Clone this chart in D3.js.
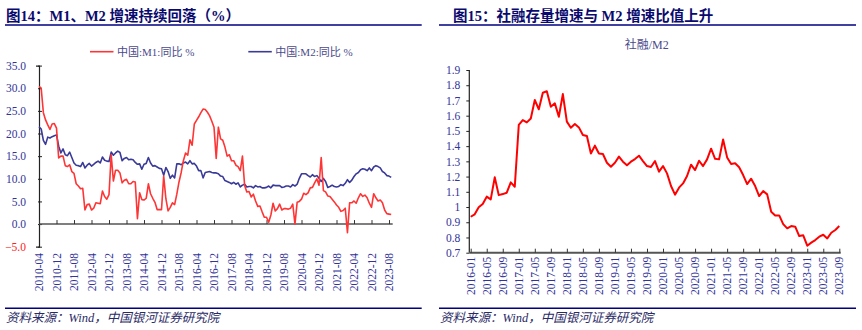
<!DOCTYPE html>
<html><head><meta charset="utf-8">
<script src="https://cdn.jsdelivr.net/npm/d3@7"></script>
<style>
html,body{margin:0;padding:0;background:#fff;}
svg{display:block;}
text{font-family:"Liberation Serif","Noto Sans CJK SC",serif;}
</style></head>
<body>
<svg id="chart" width="862" height="330"></svg>
<script>
// ---------- DATA ----------
const leftTitle = "图14：M1、M2 增速持续回落（%）";
const rightTitle = "图15：社融存量增速与 M2 增速比值上升";
const sourceText = "资料来源：Wind，中国银河证券研究院";
const m1Name = "中国:M1:同比 %";
const m2Name = "中国:M2:同比 %";
const ratioName = "社融/M2";

const leftStart = [2010, 4];   // first month of the M1/M2 series
const m1 = [
 30.4,30.0,24.6,23.0,21.9,20.9,22.1,22.2,21.2,
 14.6,15.0,15.0,12.9,12.7,13.1,11.6,11.2,8.9,8.4,7.8,7.9,
 3.1,4.3,4.4,3.1,3.5,4.7,4.6,4.5,7.3,6.1,5.5,6.5,
 15.3,9.5,11.9,11.9,11.3,9.1,9.7,9.9,8.9,8.9,9.4,9.3,
 1.2,6.9,5.4,5.3,5.7,8.9,6.7,5.7,4.8,3.2,3.2,3.2,
 10.6,5.6,2.9,3.7,4.7,4.3,6.6,9.3,11.4,14.0,15.7,15.2,
 18.6,17.4,22.1,22.9,23.7,24.6,25.4,25.3,24.7,23.9,22.7,21.4,
 14.5,21.4,18.8,18.5,17.0,15.0,15.3,14.0,14.0,13.0,12.7,11.8,
 15.0,8.5,7.1,7.2,6.0,6.6,5.1,3.9,4.0,2.7,1.5,1.5,
 0.4,2.0,4.6,2.9,3.4,4.4,3.1,3.4,3.4,3.3,3.5,4.4,
 0.0,4.8,5.0,5.5,6.8,6.5,6.9,8.0,8.1,9.1,10.0,8.6,
 14.7,7.4,7.1,6.2,6.1,5.5,4.9,4.2,3.7,2.8,3.0,3.5,
 -1.9,4.7,4.7,5.1,4.6,5.8,6.7,6.1,6.4,5.8,4.6,3.7,
 6.7,5.8,5.1,5.3,4.7,3.1,2.3,2.2,2.1
];
const m2 = [
 21.5,21.0,18.5,17.6,19.2,19.0,19.3,19.5,19.7,
 17.2,15.7,16.6,15.3,15.1,15.9,14.7,13.5,13.0,12.9,12.7,13.6,
 12.4,13.0,13.4,12.8,13.2,13.6,13.9,13.5,14.8,14.1,13.9,13.8,
 15.9,15.2,15.7,16.1,15.8,14.0,14.5,14.7,14.2,14.3,14.2,13.6,
 13.2,13.3,12.1,13.2,13.4,14.7,13.5,12.8,12.9,12.6,12.3,12.2,
 10.8,12.5,11.6,10.1,10.8,10.2,13.3,13.3,13.1,13.5,13.7,13.3,
 14.0,13.3,13.4,12.8,11.8,11.8,10.2,11.4,11.5,11.6,11.4,11.3,
 11.3,11.1,10.6,10.5,9.6,9.4,9.2,8.9,9.2,8.8,9.1,8.2,
 8.6,8.8,8.2,8.3,8.3,8.0,8.5,8.2,8.3,8.0,8.0,8.1,
 8.4,8.0,8.6,8.5,8.5,8.5,8.1,8.2,8.4,8.4,8.2,8.7,
 8.4,8.8,10.1,11.1,11.1,11.1,10.7,10.4,10.9,10.5,10.7,10.1,
 9.4,10.1,9.4,8.1,8.3,8.6,8.3,8.2,8.3,8.7,8.5,9.0,
 9.8,9.2,9.7,10.5,11.1,11.4,12.0,12.2,12.1,11.8,12.4,11.8,
 12.6,12.9,12.7,12.4,11.6,11.3,10.7,10.6,10.3
];
const leftYTicks = [-5,0,5,10,15,20,25,30,35];
const leftXTicks = ["2010-04","2010-12","2011-08","2012-04","2012-12","2013-08","2014-04","2014-12","2015-08","2016-04","2016-12","2017-08","2018-04","2018-12","2019-08","2020-04","2020-12","2021-08","2022-04","2022-12","2023-08"];

const rightStart = [2016, 1];
const ratio = [
 0.936,0.952,0.998,1.02,1.068,1.05,1.195,1.078,1.085,1.094,1.162,1.133,
 1.539,1.571,1.556,1.582,1.703,1.642,1.751,1.76,1.659,1.681,1.593,1.742,
 1.561,1.521,1.545,1.523,1.473,1.466,1.352,1.403,1.352,1.348,1.291,1.265,
 1.291,1.331,1.298,1.274,1.298,1.315,1.337,1.302,1.269,1.263,1.302,1.232,
 1.269,1.221,1.138,1.081,1.127,1.155,1.204,1.278,1.243,1.304,1.269,1.313,
 1.383,1.317,1.313,1.444,1.326,1.282,1.287,1.261,1.21,1.151,1.186,1.138,
 1.072,1.105,1.083,0.969,0.945,0.945,0.888,0.86,0.875,0.871,0.809,0.814,
 0.746,0.766,0.783,0.805,0.818,0.794,0.831,0.849,0.875
];
const rightYTicks = ["0.7","0.8","0.9","1","1.1","1.2","1.3","1.4","1.5","1.6","1.7","1.8","1.9"];
const rightXTicks = ["2016-01","2016-05","2016-09","2017-01","2017-05","2017-09","2018-01","2018-05","2018-09","2019-01","2019-05","2019-09","2020-01","2020-05","2020-09","2021-01","2021-05","2021-09","2022-01","2022-05","2022-09","2023-01","2023-05","2023-09"];

// ---------- HELPERS ----------
const monthIndex = (label, start) => {
  const [y, m] = label.split("-").map(Number);
  return (y - start[0]) * 12 + (m - start[1]);
};

const svg = d3.select("#chart");
const NAVY = "#000080";
const LABEL = "#333399";

// ---------- FRAME (titles, rules, sources) ----------
function frame(x0, x1, titleX, title) {
  svg.append("text").attr("x", titleX).attr("y", 21)
    .attr("font-size", 14.5).attr("font-weight", "bold").attr("fill", "#0a0a6e")
    .text(title);
  svg.append("line").attr("x1", x0).attr("x2", x1).attr("y1", 25).attr("y2", 25)
    .attr("stroke", NAVY).attr("stroke-width", 1.5);
  svg.append("line").attr("x1", x0).attr("x2", x1).attr("y1", 308.3).attr("y2", 308.3)
    .attr("stroke", NAVY).attr("stroke-width", 1.5);
  svg.append("text").attr("x", x0 + 1).attr("y", 321.5)
    .attr("font-size", 12.5).attr("font-style", "italic").attr("fill", "#2a2a66")
    .text(sourceText);
}
frame(5, 421.7, 6, leftTitle);
frame(439, 856, 453, rightTitle);

// ---------- LEFT CHART ----------
{
  const x = d3.scaleLinear().domain([0, m1.length - 1]).range([39, 391.2]);
  const y = d3.scaleLinear().domain([-5, 35]).range([246.7, 65.6]);
  const g = svg.append("g");

  // y axis
  const ya = g.append("g").attr("transform", "translate(39,0)")
    .call(d3.axisLeft(y).tickValues(leftYTicks).tickSize(3).tickPadding(10)
      .tickFormat(d3.format(".1f")));
  ya.select(".domain").attr("stroke", "#222").attr("stroke-width", 1.2);
  ya.selectAll(".tick line").attr("stroke", "#222").attr("x2", 3).attr("x1", -1);
  ya.selectAll(".tick text").attr("font-size", 11.5)
    .attr("font-family", "Liberation Serif")
    .attr("fill", d => d < 0 ? "#ff2020" : LABEL);

  // x axis at zero
  const xa = g.append("g").attr("transform", `translate(0,${y(0)})`)
    .call(d3.axisTop(x).tickValues(leftXTicks.map(t => monthIndex(t, leftStart)))
      .tickSize(4).tickFormat(""));
  xa.select(".domain").attr("stroke", "#555").attr("stroke-width", 1.6)
    .attr("d", `M39,0H392.7`);
  xa.selectAll(".tick line").attr("stroke", "#333");

  // x labels at bottom, rotated
  g.selectAll(".xl").data(leftXTicks).join("text")
    .attr("transform", d => `translate(${x(monthIndex(d, leftStart)) + 4},253) rotate(-90)`)
    .attr("text-anchor", "end").attr("font-size", 11.5).attr("fill", LABEL)
    .attr("font-family", "Liberation Serif")
    .text(d => d);

  const line = d3.line().x((d, i) => x(i)).y(d => y(d));
  g.append("path").datum(m2).attr("d", line).attr("fill", "none")
    .attr("stroke", "#3a3a98").attr("stroke-width", 1.6).attr("stroke-linejoin", "round");
  g.append("path").datum(m1).attr("d", line).attr("fill", "none")
    .attr("stroke", "#ff3535").attr("stroke-width", 1.6).attr("stroke-linejoin", "round");

  // legend
  const leg = [{name: m1Name, c: "#ff3535", x: 90}, {name: m2Name, c: "#3a3a98", x: 248.3}];
  leg.forEach(l => {
    g.append("line").attr("x1", l.x).attr("x2", l.x + 23.5).attr("y1", 51.7).attr("y2", 51.7)
      .attr("stroke", l.c).attr("stroke-width", 1.6);
    g.append("text").attr("x", l.x + 27).attr("y", 55.5).attr("font-size", 11)
      .attr("fill", "#4a4a8c").text(l.name);
  });
}

// ---------- RIGHT CHART ----------
{
  const x = d3.scaleLinear().domain([0, ratio.length - 1]).range([470.7, 839.3]);
  const y = d3.scaleLinear().domain([0.7, 1.9]).range([252.7, 70]);
  const g = svg.append("g");

  g.append("text").attr("x", 646.7).attr("y", 49).attr("text-anchor", "middle")
    .attr("font-size", 12).attr("fill", "#4a4a8c").text(ratioName);

  const ya = g.append("g").attr("transform", "translate(469.3,0)")
    .call(d3.axisLeft(y).tickValues(rightYTicks.map(Number)).tickSize(3).tickPadding(6)
      .tickFormat((d, i) => rightYTicks[i]));
  ya.select(".domain").attr("stroke", "#222").attr("stroke-width", 1.2)
    .attr("d", `M0,${y(1.9)}V${y(0.7)}`);
  ya.selectAll(".tick line").attr("stroke", "#222");
  ya.selectAll(".tick text").attr("font-size", 11.5).attr("fill", LABEL)
    .attr("font-family", "Liberation Serif");

  const xa = g.append("g").attr("transform", `translate(0,${y(0.7)})`)
    .call(d3.axisTop(x).tickValues(rightXTicks.map(t => monthIndex(t, rightStart)))
      .tickSize(4).tickFormat(""));
  xa.select(".domain").attr("stroke", "#555").attr("stroke-width", 2)
    .attr("d", `M469.3,0H840.7`);
  xa.selectAll(".tick line").attr("stroke", "#333");

  g.selectAll(".xl").data(rightXTicks).join("text")
    .attr("transform", d => `translate(${x(monthIndex(d, rightStart)) + 4},256.7) rotate(-90)`)
    .attr("text-anchor", "end").attr("font-size", 11.5).attr("fill", LABEL)
    .attr("font-family", "Liberation Serif")
    .text(d => d);

  const line = d3.line().x((d, i) => x(i)).y(d => y(d));
  g.append("path").datum(ratio).attr("d", line).attr("fill", "none")
    .attr("stroke", "#ff0000").attr("stroke-width", 2).attr("stroke-linejoin", "round");
}
</script>
</body></html>
